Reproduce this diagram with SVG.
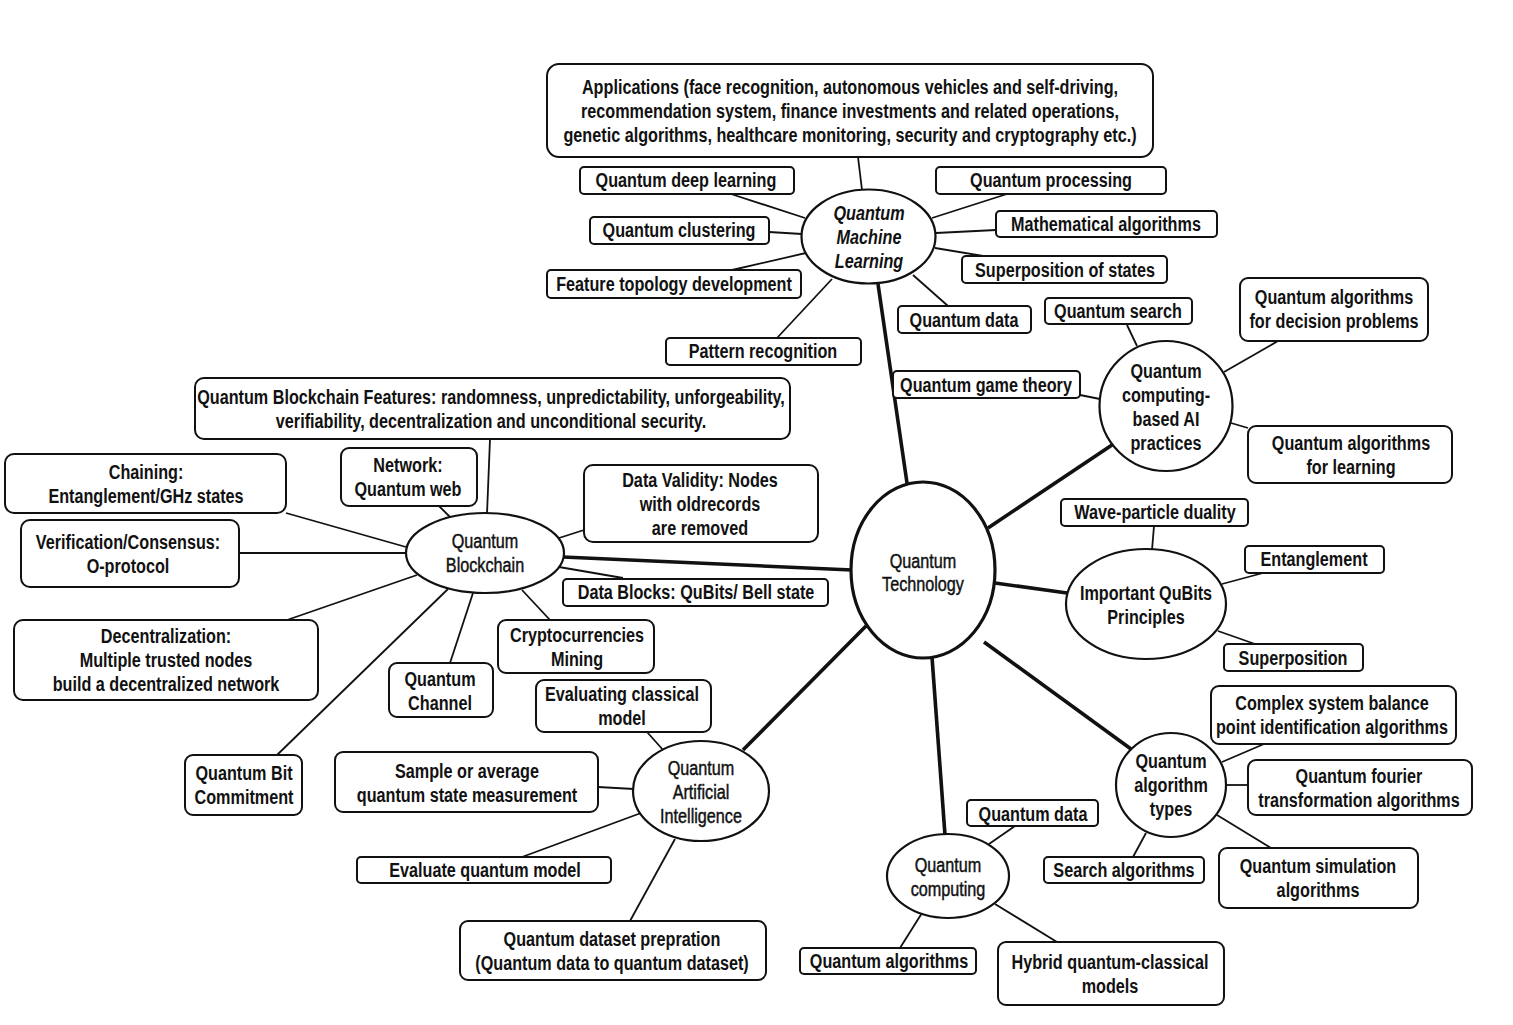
<svg xmlns="http://www.w3.org/2000/svg" width="1513" height="1025" viewBox="0 0 1513 1025">
<style>
.bg{fill:#fff}
.box{fill:#fff;stroke:#111;stroke-width:2}
.hub{fill:#fff;stroke:#111;stroke-width:2.2}
.core{fill:#fff;stroke:#111;stroke-width:3.2}
.c{stroke:#111;stroke-width:1.8;fill:none}
.k{stroke:#111;stroke-width:3.6;fill:none}
text{font-family:"Liberation Sans",Arial,sans-serif;font-size:20px;text-anchor:middle;fill:#111;font-weight:bold}
text.r{font-weight:normal;stroke:#111;stroke-width:0.45}
text.i{font-style:italic}
</style>
<rect class="bg" x="0" y="0" width="1513" height="1025"/>
<g id="connectors">
<line class="c" x1="858" y1="157" x2="862" y2="190"/>
<line class="c" x1="731" y1="194" x2="805" y2="218"/>
<line class="c" x1="769" y1="232" x2="802" y2="234"/>
<line class="c" x1="732" y1="270" x2="806" y2="253"/>
<line class="c" x1="777" y1="338" x2="832" y2="279"/>
<line class="c" x1="1007" y1="194" x2="932" y2="218"/>
<line class="c" x1="996" y1="230" x2="936" y2="233"/>
<line class="c" x1="983" y1="256" x2="935" y2="248"/>
<line class="c" x1="948" y1="306" x2="913" y2="275"/>
<line class="c" x1="1127" y1="325" x2="1137" y2="346"/>
<line class="c" x1="1080" y1="395" x2="1100" y2="399"/>
<line class="c" x1="1278" y1="341" x2="1224" y2="372"/>
<line class="c" x1="1231" y1="423" x2="1248" y2="428"/>
<line class="c" x1="1154" y1="526" x2="1152" y2="550"/>
<line class="c" x1="1263" y1="573" x2="1222" y2="584"/>
<line class="c" x1="1218" y1="631" x2="1255" y2="644"/>
<line class="c" x1="1264" y1="744" x2="1222" y2="762"/>
<line class="c" x1="1226" y1="785" x2="1248" y2="785"/>
<line class="c" x1="1217" y1="815" x2="1271" y2="848"/>
<line class="c" x1="1133" y1="857" x2="1146" y2="833"/>
<line class="c" x1="1015" y1="826" x2="989" y2="844"/>
<line class="c" x1="900" y1="948" x2="922" y2="913"/>
<line class="c" x1="995" y1="904" x2="1057" y2="942"/>
<line class="c" x1="647" y1="732" x2="664" y2="751"/>
<line class="c" x1="598" y1="787" x2="634" y2="789"/>
<line class="c" x1="522" y1="857" x2="641" y2="813"/>
<line class="c" x1="630" y1="921" x2="675" y2="839"/>
<line class="c" x1="490" y1="439" x2="487" y2="514"/>
<line class="c" x1="439" y1="506" x2="450" y2="517"/>
<line class="c" x1="286" y1="513" x2="406" y2="547"/>
<line class="c" x1="239" y1="553" x2="407" y2="553"/>
<line class="c" x1="287" y1="620" x2="417" y2="575"/>
<line class="c" x1="277" y1="755" x2="448" y2="589"/>
<line class="c" x1="450" y1="663" x2="473" y2="593"/>
<line class="c" x1="550" y1="620" x2="522" y2="590"/>
<line class="c" x1="623" y1="578" x2="559" y2="567"/>
<line class="c" x1="584" y1="530" x2="559" y2="538"/>
<line class="k" x1="878" y1="284" x2="907" y2="483"/>
<line class="k" x1="1112" y1="445" x2="988" y2="528"/>
<line class="k" x1="1067" y1="593" x2="995" y2="583"/>
<line class="k" x1="1131" y1="749" x2="984" y2="642"/>
<line class="k" x1="945" y1="835" x2="932" y2="657"/>
<line class="k" x1="743" y1="750" x2="866" y2="626"/>
<line class="k" x1="563" y1="557" x2="852" y2="570"/>
</g>

<g id="quantum-technology">
<ellipse class="core" cx="923" cy="570" rx="72" ry="88"/>
<text class="r" transform="translate(923 0) scale(0.81 1)"><tspan x="0" y="568">Quantum</tspan><tspan x="0" y="591">Technology</tspan></text>
</g>

<g id="qml">
<ellipse class="hub" cx="868.5" cy="236.5" rx="67" ry="47"/>
<text class="i" transform="translate(869 0) scale(0.81 1)"><tspan x="0" y="220">Quantum</tspan><tspan x="0" y="244">Machine</tspan><tspan x="0" y="268">Learning</tspan></text>
</g>
<g id="applications">
<rect class="box" x="547" y="64" width="606" height="93" rx="12"/>
<text transform="translate(850 0) scale(0.81 1)"><tspan x="0" y="94">Applications (face recognition, autonomous vehicles and self-driving,</tspan><tspan x="0" y="118">recommendation system, finance investments and related operations,</tspan><tspan x="0" y="142">genetic algorithms, healthcare monitoring, security and cryptography etc.)</tspan></text>
</g>
<g id="quantum-deep-learning">
<rect class="box" x="580" y="167" width="214" height="27" rx="4"/>
<text transform="translate(686 187) scale(0.81 1)">Quantum deep learning</text>
</g>
<g id="quantum-clustering">
<rect class="box" x="590" y="217" width="179" height="27" rx="4"/>
<text transform="translate(679 237) scale(0.81 1)">Quantum clustering</text>
</g>
<g id="feature-topology">
<rect class="box" x="547" y="270" width="254" height="28" rx="4"/>
<text transform="translate(674 291) scale(0.81 1)">Feature topology development</text>
</g>
<g id="pattern-recognition">
<rect class="box" x="666" y="338" width="195" height="27" rx="4"/>
<text transform="translate(763 358) scale(0.81 1)">Pattern recognition</text>
</g>
<g id="quantum-processing">
<rect class="box" x="936" y="167" width="230" height="27" rx="4"/>
<text transform="translate(1051 187) scale(0.81 1)">Quantum processing</text>
</g>
<g id="mathematical-algorithms">
<rect class="box" x="996" y="211" width="221" height="26" rx="4"/>
<text transform="translate(1106 231) scale(0.81 1)">Mathematical algorithms</text>
</g>
<g id="superposition-of-states">
<rect class="box" x="962" y="256" width="205" height="27" rx="4"/>
<text transform="translate(1065 277) scale(0.81 1)">Superposition of states</text>
</g>
<g id="quantum-data-qml">
<rect class="box" x="898" y="306" width="133" height="27" rx="4"/>
<text transform="translate(964 327) scale(0.81 1)">Quantum data</text>
</g>

<g id="ai-practices">
<ellipse class="hub" cx="1166" cy="406" rx="66.5" ry="65"/>
<text transform="translate(1166 0) scale(0.81 1)"><tspan x="0" y="378">Quantum</tspan><tspan x="0" y="402">computing-</tspan><tspan x="0" y="426">based AI</tspan><tspan x="0" y="450">practices</tspan></text>
</g>
<g id="quantum-search">
<rect class="box" x="1045" y="298" width="147" height="26" rx="4"/>
<text transform="translate(1118 318) scale(0.81 1)">Quantum search</text>
</g>
<g id="quantum-game-theory">
<rect class="box" x="893" y="371" width="187" height="27" rx="4"/>
<text transform="translate(986 392) scale(0.81 1)">Quantum game theory</text>
</g>
<g id="decision-problems">
<rect class="box" x="1240" y="278" width="188" height="63" rx="8"/>
<text transform="translate(1334 0) scale(0.81 1)"><tspan x="0" y="304">Quantum algorithms</tspan><tspan x="0" y="328">for decision problems</tspan></text>
</g>
<g id="algorithms-learning">
<rect class="box" x="1248" y="426" width="204" height="57" rx="8"/>
<text transform="translate(1351 0) scale(0.81 1)"><tspan x="0" y="450">Quantum algorithms</tspan><tspan x="0" y="474">for learning</tspan></text>
</g>

<g id="qubits-principles">
<ellipse class="hub" cx="1146" cy="604" rx="80" ry="55"/>
<text transform="translate(1146 0) scale(0.81 1)"><tspan x="0" y="600">Important QuBits</tspan><tspan x="0" y="624">Principles</tspan></text>
</g>
<g id="wave-particle">
<rect class="box" x="1061" y="499" width="187" height="27" rx="4"/>
<text transform="translate(1155 519) scale(0.81 1)">Wave-particle duality</text>
</g>
<g id="entanglement">
<rect class="box" x="1245" y="546" width="139" height="27" rx="4"/>
<text transform="translate(1314 566) scale(0.81 1)">Entanglement</text>
</g>
<g id="superposition">
<rect class="box" x="1224" y="644" width="139" height="27" rx="4"/>
<text transform="translate(1293 665) scale(0.81 1)">Superposition</text>
</g>

<g id="algorithm-types">
<ellipse class="hub" cx="1171" cy="785" rx="55" ry="52"/>
<text transform="translate(1171 0) scale(0.81 1)"><tspan x="0" y="768">Quantum</tspan><tspan x="0" y="792">algorithm</tspan><tspan x="0" y="816">types</tspan></text>
</g>
<g id="complex-system">
<rect class="box" x="1211" y="686" width="245" height="58" rx="8"/>
<text transform="translate(1332 0) scale(0.81 1)"><tspan x="0" y="710">Complex system balance</tspan><tspan x="0" y="734">point identification algorithms</tspan></text>
</g>
<g id="fourier">
<rect class="box" x="1248" y="760" width="224" height="55" rx="8"/>
<text transform="translate(1359 0) scale(0.81 1)"><tspan x="0" y="783">Quantum fourier</tspan><tspan x="0" y="807">transformation algorithms</tspan></text>
</g>
<g id="simulation">
<rect class="box" x="1219" y="848" width="199" height="60" rx="8"/>
<text transform="translate(1318 0) scale(0.81 1)"><tspan x="0" y="873">Quantum simulation</tspan><tspan x="0" y="897">algorithms</tspan></text>
</g>
<g id="search-algorithms">
<rect class="box" x="1044" y="857" width="160" height="26" rx="4"/>
<text transform="translate(1124 877) scale(0.81 1)">Search algorithms</text>
</g>

<g id="quantum-computing">
<ellipse class="hub" cx="948" cy="876" rx="61" ry="42"/>
<text class="r" transform="translate(948 0) scale(0.81 1)"><tspan x="0" y="872">Quantum</tspan><tspan x="0" y="896">computing</tspan></text>
</g>
<g id="quantum-data-qc">
<rect class="box" x="967" y="800" width="131" height="26" rx="4"/>
<text transform="translate(1033 821) scale(0.81 1)">Quantum data</text>
</g>
<g id="quantum-algorithms">
<rect class="box" x="800" y="948" width="176" height="26" rx="4"/>
<text transform="translate(889 968) scale(0.81 1)">Quantum algorithms</text>
</g>
<g id="hybrid">
<rect class="box" x="998" y="942" width="226" height="63" rx="8"/>
<text transform="translate(1110 0) scale(0.81 1)"><tspan x="0" y="969">Hybrid quantum-classical</tspan><tspan x="0" y="993">models</tspan></text>
</g>

<g id="qai">
<ellipse class="hub" cx="701" cy="791" rx="68" ry="50"/>
<text class="r" transform="translate(701 0) scale(0.81 1)"><tspan x="0" y="775">Quantum</tspan><tspan x="0" y="799">Artificial</tspan><tspan x="0" y="823">Intelligence</tspan></text>
</g>
<g id="evaluating-classical">
<rect class="box" x="536" y="680" width="175" height="52" rx="8"/>
<text transform="translate(622 0) scale(0.81 1)"><tspan x="0" y="701">Evaluating classical</tspan><tspan x="0" y="725">model</tspan></text>
</g>
<g id="sample-average">
<rect class="box" x="335" y="752" width="263" height="60" rx="8"/>
<text transform="translate(467 0) scale(0.81 1)"><tspan x="0" y="778">Sample or average</tspan><tspan x="0" y="802">quantum state measurement</tspan></text>
</g>
<g id="evaluate-quantum">
<rect class="box" x="357" y="857" width="254" height="26" rx="4"/>
<text transform="translate(485 877) scale(0.81 1)">Evaluate quantum model</text>
</g>
<g id="dataset-prep">
<rect class="box" x="460" y="921" width="306" height="59" rx="8"/>
<text transform="translate(612 0) scale(0.81 1)"><tspan x="0" y="946">Quantum dataset prepration</tspan><tspan x="0" y="970">(Quantum data to quantum dataset)</tspan></text>
</g>

<g id="quantum-blockchain">
<ellipse class="hub" cx="485" cy="553" rx="79" ry="40"/>
<text class="r" transform="translate(485 0) scale(0.81 1)"><tspan x="0" y="548">Quantum</tspan><tspan x="0" y="572">Blockchain</tspan></text>
</g>
<g id="blockchain-features">
<rect class="box" x="195" y="378" width="595" height="61" rx="9"/>
<text transform="translate(491 0) scale(0.81 1)"><tspan x="0" y="404">Quantum Blockchain Features: randomness, unpredictability, unforgeability,</tspan><tspan x="0" y="428">verifiability, decentralization and unconditional security.</tspan></text>
</g>
<g id="network">
<rect class="box" x="341" y="448" width="136" height="58" rx="8"/>
<text transform="translate(408 0) scale(0.81 1)"><tspan x="0" y="472">Network:</tspan><tspan x="0" y="496">Quantum web</tspan></text>
</g>
<g id="chaining">
<rect class="box" x="5" y="454" width="281" height="59" rx="9"/>
<text transform="translate(146 0) scale(0.81 1)"><tspan x="0" y="479">Chaining:</tspan><tspan x="0" y="503">Entanglement/GHz states</tspan></text>
</g>
<g id="verification">
<rect class="box" x="21" y="520" width="218" height="67" rx="9"/>
<text transform="translate(128 0) scale(0.81 1)"><tspan x="0" y="549">Verification/Consensus:</tspan><tspan x="0" y="573">O-protocol</tspan></text>
</g>
<g id="decentralization">
<rect class="box" x="14" y="620" width="304" height="80" rx="9"/>
<text transform="translate(166 0) scale(0.81 1)"><tspan x="0" y="643">Decentralization:</tspan><tspan x="0" y="667">Multiple trusted nodes</tspan><tspan x="0" y="691">build a decentralized network</tspan></text>
</g>
<g id="bit-commitment">
<rect class="box" x="185" y="755" width="117" height="60" rx="8"/>
<text transform="translate(244 0) scale(0.81 1)"><tspan x="0" y="780">Quantum Bit</tspan><tspan x="0" y="804">Commitment</tspan></text>
</g>
<g id="quantum-channel">
<rect class="box" x="389" y="663" width="104" height="54" rx="8"/>
<text transform="translate(440 0) scale(0.81 1)"><tspan x="0" y="686">Quantum</tspan><tspan x="0" y="710">Channel</tspan></text>
</g>
<g id="cryptocurrencies">
<rect class="box" x="498" y="620" width="156" height="53" rx="8"/>
<text transform="translate(577 0) scale(0.81 1)"><tspan x="0" y="642">Cryptocurrencies</tspan><tspan x="0" y="666">Mining</tspan></text>
</g>
<g id="data-blocks">
<rect class="box" x="563" y="579" width="265" height="27" rx="4"/>
<text transform="translate(696 599) scale(0.81 1)">Data Blocks: QuBits/ Bell state</text>
</g>
<g id="data-validity">
<rect class="box" x="584" y="465" width="234" height="77" rx="9"/>
<text transform="translate(700 0) scale(0.81 1)"><tspan x="0" y="487">Data Validity: Nodes</tspan><tspan x="0" y="511">with oldrecords</tspan><tspan x="0" y="535">are removed</tspan></text>
</g>
</svg>
